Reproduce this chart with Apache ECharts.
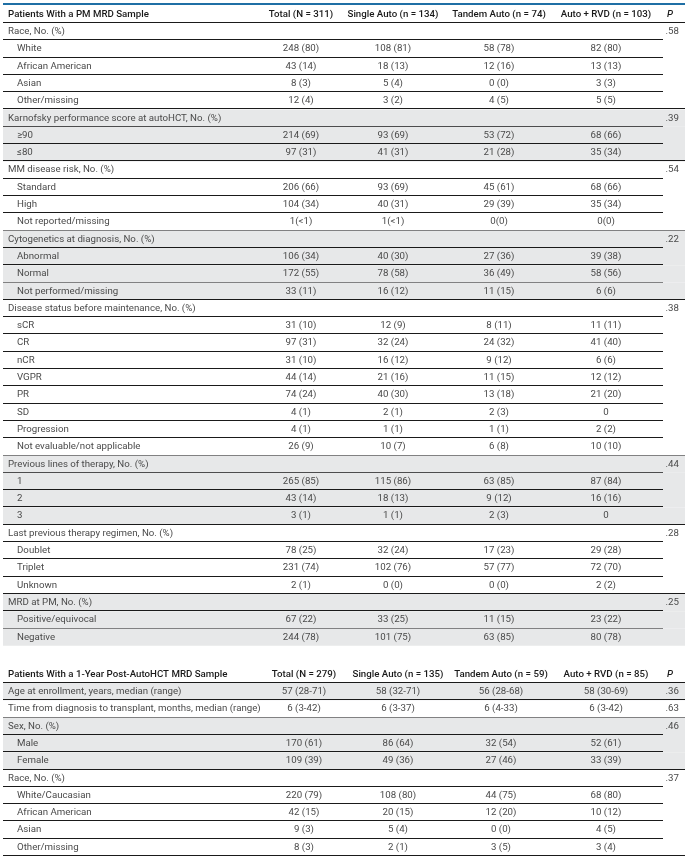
<!DOCTYPE html>
<html><head><meta charset="utf-8">
<script src="https://cdn.jsdelivr.net/npm/echarts@6/dist/echarts.min.js"></script>
<style>html,body{margin:0;padding:0;background:#fff}#c{width:688px;height:859px}</style>
</head><body><div id="c"></div>
<script>
// ---------- Table 1 : Patients With a PM MRD Sample ----------
const t1Kind = ['h','g','s','s','s','s','g','s','s','g','s','s','s','g','s','s','s','g','s','s','s','s','s','s','s','s','g','s','s','s','g','s','s','s','g','s','s'];
const t1Labels = ['Patients With a PM MRD Sample','Race, No. (%)','White','African American','Asian','Other/missing',
  'Karnofsky performance score at autoHCT, No. (%)','≥90','≤80',
  'MM disease risk, No. (%)','Standard','High','Not reported/missing',
  'Cytogenetics at diagnosis, No. (%)','Abnormal','Normal','Not performed/missing',
  'Disease status before maintenance, No. (%)','sCR','CR','nCR','VGPR','PR','SD','Progression','Not evaluable/not applicable',
  'Previous lines of therapy, No. (%)','1','2','3',
  'Last previous therapy regimen, No. (%)','Doublet','Triplet','Unknown',
  'MRD at PM, No. (%)','Positive/equivocal','Negative'];
const t1Total = ['Total (N = 311)','','248 (80)','43 (14)','8 (3)','12 (4)','','214 (69)','97 (31)','','206 (66)','104 (34)','1(<1)','','106 (34)','172 (55)','33 (11)','','31 (10)','97 (31)','31 (10)','44 (14)','74 (24)','4 (1)','4 (1)','26 (9)','','265 (85)','43 (14)','3 (1)','','78 (25)','231 (74)','2 (1)','','67 (22)','244 (78)'];
const t1Single = ['Single Auto (n = 134)','','108 (81)','18 (13)','5 (4)','3 (2)','','93 (69)','41 (31)','','93 (69)','40 (31)','1(<1)','','40 (30)','78 (58)','16 (12)','','12 (9)','32 (24)','16 (12)','21 (16)','40 (30)','2 (1)','1 (1)','10 (7)','','115 (86)','18 (13)','1 (1)','','32 (24)','102 (76)','0 (0)','','33 (25)','101 (75)'];
const t1Tandem = ['Tandem Auto (n = 74)','','58 (78)','12 (16)','0 (0)','4 (5)','','53 (72)','21 (28)','','45 (61)','29 (39)','0(0)','','27 (36)','36 (49)','11 (15)','','8 (11)','24 (32)','9 (12)','11 (15)','13 (18)','2 (3)','1 (1)','6 (8)','','63 (85)','9 (12)','2 (3)','','17 (23)','57 (77)','0 (0)','','11 (15)','63 (85)'];
const t1RVD = ['Auto + RVD (n = 103)','','82 (80)','13 (13)','3 (3)','5 (5)','','68 (66)','35 (34)','','68 (66)','35 (34)','0(0)','','39 (38)','58 (56)','6 (6)','','11 (11)','41 (40)','6 (6)','12 (12)','21 (20)','0','2 (2)','10 (10)','','87 (84)','16 (16)','0','','29 (28)','72 (70)','2 (2)','','23 (22)','80 (78)'];
const t1P = ['P','.58','','','','','.39','','','.54','','','','.22','','','','.38','','','','','','','','','.44','','','','.28','','','','.25','',''];

// ---------- Table 2 : Patients With a 1-Year Post-AutoHCT MRD Sample ----------
const t2Kind = ['h','r','r','g','s','s','g','s','s','s','s'];
const t2Labels = ['Patients With a 1-Year Post-AutoHCT MRD Sample','Age at enrollment, years, median (range)','Time from diagnosis to transplant, months, median (range)',
  'Sex, No. (%)','Male','Female','Race, No. (%)','White/Caucasian','African American','Asian','Other/missing'];
const t2Total = ['Total (N = 279)','57 (28-71)','6 (3-42)','','170 (61)','109 (39)','','220 (79)','42 (15)','9 (3)','8 (3)'];
const t2Single = ['Single Auto (n = 135)','58 (32-71)','6 (3-37)','','86 (64)','49 (36)','','108 (80)','20 (15)','5 (4)','2 (1)'];
const t2Tandem = ['Tandem Auto (n = 59)','56 (28-68)','6 (4-33)','','32 (54)','27 (46)','','44 (75)','12 (20)','0 (0)','3 (5)'];
const t2RVD = ['Auto + RVD (n = 85)','58 (30-69)','6 (3-42)','','52 (61)','33 (39)','','68 (80)','10 (12)','4 (5)','3 (4)'];
const t2P = ['P','.36','.63','.46','','','.37','','','',''];

// ---------- layout / style ----------
const FONT = 'Roboto, "Liberation Sans", sans-serif';
const ROW_H = 17.3;
const tables = [
  {kind:t1Kind, labels:t1Labels, cols:[t1Total,t1Single,t1Tandem,t1RVD], p:t1P,
   centers:[301,393,499,606], firstGrey:false, topLine:true, lastLine:false, top:5.7},
  {kind:t2Kind, labels:t2Labels, cols:[t2Total,t2Single,t2Tandem,t2RVD], p:t2P,
   centers:[304,398,501,606], firstGrey:true, topLine:false, lastLine:true, top:665.7}
];

function makeRender(T) {
  const n = T.kind.length;
  const block = []; let b = -1;
  for (let i = 0; i < n; i++) { if (T.kind[i] === 'g' || T.kind[i] === 'r') b++; block.push(b); }
  return function (params, api) {
    const i = api.value(1);
    const c = api.coord([0, i]);
    const h = api.size([0, 1])[1];
    const top = c[1] - h / 2, bot = c[1] + h / 2, mid = c[1];
    const X = v => api.coord([v, i])[0];
    const k = T.kind[i];
    const kids = [];
    const isHead = k === 'h';
    if (!isHead && ((block[i] % 2 === 0) === T.firstGrey)) {
      kids.push({type:'rect', shape:{x:X(3), y:top, width:X(685) - X(3), height:h}, style:{fill:'#e7e8e9'}});
    }
    if (isHead && T.topLine) {
      kids.push({type:'line', shape:{x1:X(3), y1:top - 1.7, x2:X(685), y2:top - 1.7}, style:{stroke:'#1f6fa5', lineWidth:2}});
    }
    const next = T.kind[i + 1];
    let end = null;
    if (isHead) end = 685;
    else if (next === undefined) end = T.lastLine ? 685 : null;
    else if (next === 'g' || next === 'r') end = 685;
    else end = 663;
    if (end !== null) {
      const y = Math.round(bot) - 0.5;
      kids.push({type:'line', shape:{x1:X(3), y1:y, x2:X(end), y2:y}, style:{stroke:'#1a1a1a', lineWidth:1}});
    }
    const color = isHead ? '#1a1a1a' : '#4a4a4a';
    const weight = isHead ? 500 : 'normal';
    const txt = (s, x, align, extra) => {
      if (!s) return;
      kids.push({type:'text', style:Object.assign({text:s, x:x, y:mid, align:align, verticalAlign:'middle',
        fill:color, fontFamily:FONT, fontSize:9.7, fontWeight:weight}, extra || {})});
    };
    txt(T.labels[i], X(k === 's' ? 17 : 8), 'left');
    T.cols.forEach((col, j) => txt(col[i], X(T.centers[j]), 'center'));
    if (isHead) txt(T.p[i], X(667), 'left', {fontStyle:'italic'});
    else txt(T.p[i], X(679), 'right');
    return {type:'group', children:kids};
  };
}

const chart = echarts.init(document.getElementById('c'), null, {renderer:'canvas'});
const grid = [], xAxis = [], yAxis = [], series = [];
tables.forEach((T, t) => {
  const n = T.kind.length;
  grid.push({left:0, right:0, top:T.top, height:n * ROW_H});
  xAxis.push({type:'value', gridIndex:t, min:0, max:688, show:false});
  yAxis.push({type:'category', gridIndex:t, inverse:true, data:T.labels.map((l, i) => i + ':' + l), show:false});
  series.push({type:'custom', xAxisIndex:t, yAxisIndex:t, clip:false, silent:true,
    renderItem:makeRender(T), encode:{x:0, y:1},
    data:T.labels.map((l, i) => [0, i])});
});
chart.setOption({animation:false, backgroundColor:'#fff', grid, xAxis, yAxis, series});
</script>
</body></html>
